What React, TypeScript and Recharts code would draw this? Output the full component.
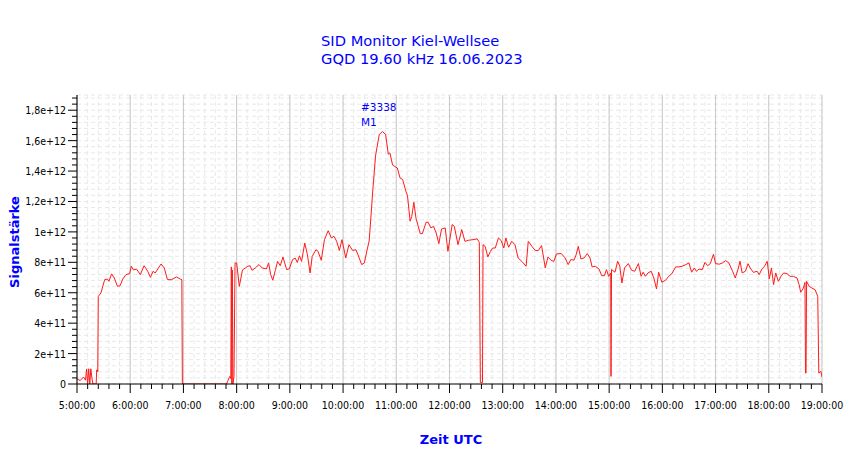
import React from "react";
import { CartesianGrid, Line, LineChart, ReferenceLine, XAxis, YAxis } from "recharts";

// time in hours UTC, signal in units of 1e11
const hours = [
  5.0, 5.06, 5.12, 5.16, 5.18, 5.2, 5.22, 5.24, 5.26, 5.28, 5.3, 5.36, 5.37, 5.39, 5.4, 5.45,
  5.52, 5.57, 5.6, 5.65, 5.7, 5.76, 5.81, 5.86, 5.92, 5.99, 6.02, 6.06, 6.12, 6.19, 6.26, 6.33,
  6.38, 6.43, 6.47, 6.53, 6.58, 6.64, 6.7, 6.78, 6.87, 6.94, 6.97, 6.98, 7.81, 7.83, 7.87, 7.89,
  7.9, 7.91, 7.92, 7.93, 7.95, 7.97, 8.0, 8.05, 8.11, 8.17, 8.21, 8.25, 8.29, 8.35, 8.42, 8.48,
  8.56, 8.6, 8.64, 8.68, 8.73, 8.77, 8.82, 8.87, 8.94, 8.99, 9.05, 9.1, 9.14, 9.18, 9.22, 9.28,
  9.33, 9.38, 9.42, 9.49, 9.53, 9.59, 9.65, 9.72, 9.78, 9.83, 9.88, 9.93, 9.98, 10.05, 10.11,
  10.18, 10.24, 10.28, 10.35, 10.4, 10.45, 10.49, 10.53, 10.56, 10.61, 10.68, 10.74, 10.8, 10.85,
  10.88, 10.93, 10.97, 11.02, 11.07, 11.12, 11.18, 11.21, 11.26, 11.29, 11.33, 11.37, 11.45,
  11.49, 11.56, 11.6, 11.65, 11.7, 11.75, 11.8, 11.85, 11.92, 11.97, 12.0, 12.05, 12.09, 12.16,
  12.23, 12.29, 12.36, 12.44, 12.52, 12.56, 12.58, 12.62, 12.63, 12.67, 12.72, 12.77, 12.81,
  12.86, 12.92, 12.97, 13.02, 13.06, 13.11, 13.17, 13.23, 13.29, 13.36, 13.44, 13.48, 13.55,
  13.61, 13.67, 13.73, 13.8, 13.85, 13.91, 13.96, 14.01, 14.1, 14.17, 14.23, 14.28, 14.34, 14.38,
  14.42, 14.47, 14.53, 14.59, 14.64, 14.68, 14.74, 14.81, 14.86, 14.91, 14.95, 14.99, 15.03,
  15.035, 15.045, 15.11, 15.16, 15.2, 15.24, 15.29, 15.36, 15.42, 15.48, 15.55, 15.6, 15.64,
  15.68, 15.73, 15.79, 15.84, 15.89, 15.93, 15.99, 16.06, 16.12, 16.18, 16.25, 16.31, 16.37,
  16.44, 16.5, 16.55, 16.6, 16.64, 16.69, 16.75, 16.8, 16.85, 16.9, 16.96, 17.0, 17.07, 17.13,
  17.19, 17.25, 17.32, 17.37, 17.42, 17.46, 17.5, 17.56, 17.61, 17.65, 17.71, 17.78, 17.82,
  17.87, 17.92, 17.97, 18.01, 18.05, 18.09, 18.13, 18.18, 18.23, 18.28, 18.34, 18.4, 18.46,
  18.53, 18.57, 18.6, 18.65, 18.68, 18.69, 18.7, 18.71, 18.76, 18.81, 18.87, 18.92, 18.94,
  18.98, 19.0,
];

const signal = [
  0.35, 0.22, 0.46, 0.25, 0.99, 0, 1.0, 0, 1.0, 0.4, 0, 0, 0.93, 0.8, 5.76, 5.99,
  6.86, 6.9, 6.75, 7.24, 6.97, 6.42, 6.46, 6.9, 7.19, 7.26, 7.74, 7.5, 7.55, 7.19, 7.78, 7.41,
  7.01, 7.41, 7.3, 7.63, 7.89, 7.63, 6.86, 6.86, 7.04, 6.9, 6.86, 0, 0, 0.17, 0.5, 0.35,
  7.7, 0, 7.5, 0, 0.5, 7.96, 7.96, 6.42, 7.5, 7.65, 7.74, 7.78, 7.47, 7.63, 7.85, 7.63,
  7.57, 7.96, 7.19, 6.82, 7.52, 8.06, 7.78, 8.35, 7.52, 7.57, 8.17, 8.28, 7.99, 8.43, 8.06, 9.27,
  8.5, 7.3, 8.39, 8.83, 8.72, 8.13, 9.49, 10.08, 9.6, 9.71, 9.38, 8.78, 9.49, 8.28, 9.16,
  8.78, 8.83, 8.5, 7.85, 7.96, 8.8, 9.4, 11.3, 12.8, 15.0, 16.4, 16.6, 16.4, 15.1,
  15.2, 14.4, 14.3, 14.2, 13.55, 13.44, 12.67, 12.4, 10.7, 11.0, 11.95, 10.9, 9.89,
  9.89, 10.63, 10.63, 10.26, 10.37, 9.93, 9.23, 10.19, 10.26, 8.72, 9.38, 10.48, 10.37, 9.16,
  10.15, 9.38, 9.45, 9.49, 9.54, 9.32, 0.1, 0.1, 9.16, 9.05, 8.35, 8.72, 8.94,
  8.94, 9.6, 9.43, 8.94, 9.6, 8.99, 9.38, 9.16, 8.28, 8.06, 7.74, 9.38, 9.05,
  8.78, 8.78, 9.1, 7.63, 8.35, 8.13, 8.06, 8.55, 8.58, 8.3, 7.85, 8.18, 8.14, 8.5,
  9.05, 8.22, 8.29, 8.57, 8.29, 7.7, 7.74, 7.56, 7.12, 7.12, 7.52, 7.08, 7.3,
  0.5, 7.52, 7.35, 8.07, 7.74, 6.64, 7.63, 7.92, 7.48, 7.41, 7.92, 7.08, 7.35,
  7.08, 7.3, 7.41, 6.97, 6.25, 7.35, 6.69, 6.82, 7.08, 7.26, 7.7, 7.7, 7.74,
  7.85, 7.96, 7.35, 7.63, 7.41, 7.56, 7.52, 8.0, 7.78, 7.91, 8.53, 7.91, 7.88, 7.96,
  8.11, 7.96, 7.41, 6.97, 7.52, 8.07, 7.3, 7.41, 7.91, 7.63, 7.34, 7.41, 7.19,
  7.56, 7.74, 8.07, 6.91, 7.63, 6.53, 7.3, 6.75, 7.08, 7.3, 7.26, 7.08, 7.08,
  6.97, 6.53, 6.03, 6.31, 6.68, 0.72, 0.72, 6.75, 6.42, 6.31, 6.2, 5.76, 0.72,
  0.83, 0.46,
];

const hourTicks = [5, 6, 7, 8, 9, 10, 11, 12, 13, 14, 15, 16, 17, 18, 19];
const titleLines = ["SID Monitor Kiel-Wellsee", "GQD 19.60 kHz 16.06.2023"];
const marker = ["#3338", "M1"];

const data = hours.map((h, i) => ({ h, v: signal[i] * 1e11 }));

// minor ticks every 12 minutes, every 4e10 on the value axis
const xTicks: number[] = [];
for (let i = 0; i <= 70; i++) xTicks.push(5 + i / 5);
const yTicks: number[] = [];
for (let i = 0; i <= 47; i++) yTicks.push(i * 4e10);

const BLUE = "#0000ff";
const FONT = "'DejaVu Sans', sans-serif";
const TICK_FONT = "'DejaVu Sans Condensed', 'DejaVu Sans', sans-serif";

function sci(v: number): string {
  if (v === 0) return "0";
  const e = Math.floor(Math.log10(v) + 1e-9);
  const m = Math.round((v / Math.pow(10, e)) * 10) / 10;
  return `${String(m).replace(".", ",")}e+${e}`;
}

function XTick({ x, y, payload }: any) {
  const major = Math.round(payload.value * 5) % 5 === 0;
  return (
    <g>
      <line x1={x} x2={x} y1={y} y2={y + (major ? 9 : 5)} stroke="#000" />
      {major && (
        <text x={x} y={y + 24.5} textAnchor="middle" fontSize={10.5} fontFamily={TICK_FONT} fill="#000">
          {`${Math.round(payload.value)}:00:00`}
        </text>
      )}
    </g>
  );
}

function YTick({ x, y, payload }: any) {
  const major = Math.round(payload.value / 4e10) % 5 === 0;
  return (
    <g>
      <line x1={x - (major ? 9 : 5)} x2={x} y1={y} y2={y} stroke="#000" />
      {major && (
        <text x={x - 11} y={y + 4} textAnchor="end" fontSize={10.5} fontFamily={TICK_FONT} fill="#000">
          {sci(payload.value)}
        </text>
      )}
    </g>
  );
}

export default function App() {
  return (
    <div style={{ position: "absolute", left: 0, top: 0, width: 850, height: 459, background: "#fff" }}>
      <LineChart width={850} height={459} data={data} margin={{ top: 95, right: 28, left: 0, bottom: 45 }}>
        <CartesianGrid stroke="#e8e8e8" strokeDasharray="4 3" />
        {hourTicks.map((h) => (
          <ReferenceLine key={h} x={h} stroke="#c8c8c8" />
        ))}
        <XAxis
          type="number"
          dataKey="h"
          domain={[5, 19]}
          ticks={xTicks}
          interval={0}
          height={30}
          tickSize={0}
          tickMargin={0}
          tickLine={false}
          tick={<XTick />}
          stroke="#000"
          allowDataOverflow
        />
        <YAxis
          type="number"
          domain={[0, 1.9e12]}
          ticks={yTicks}
          interval={0}
          width={77}
          tickSize={0}
          tickMargin={0}
          tickLine={false}
          tick={<YTick />}
          stroke="#000"
          allowDataOverflow
        />
        <Line
          type="linear"
          dataKey="v"
          stroke="#ff1a1a"
          strokeWidth={1}
          dot={false}
          isAnimationActive={false}
        />
      </LineChart>
      <svg width={850} height={459} style={{ position: "absolute", left: 0, top: 0, pointerEvents: "none" }}>
        {titleLines.map((t, i) => (
          <text key={t} x={321} y={45.7 + i * 18.3} fontSize={14.7} fontFamily={FONT} fill={BLUE}>
            {t}
          </text>
        ))}
        {marker.map((t, i) => (
          <text key={t} x={361} y={110.7 + i * 15.3} fontSize={10.5} fontFamily={FONT} fill={BLUE}>
            {t}
          </text>
        ))}
        <text
          x={0}
          y={0}
          transform="translate(18.5 242) rotate(-90)"
          textAnchor="middle"
          fontSize={13}
          fontWeight="bold"
          fontFamily={FONT}
          fill={BLUE}
        >
          Signalstärke
        </text>
        <text x={451} y={444} textAnchor="middle" fontSize={13} fontWeight="bold" fontFamily={FONT} fill={BLUE}>
          Zeit UTC
        </text>
      </svg>
    </div>
  );
}
